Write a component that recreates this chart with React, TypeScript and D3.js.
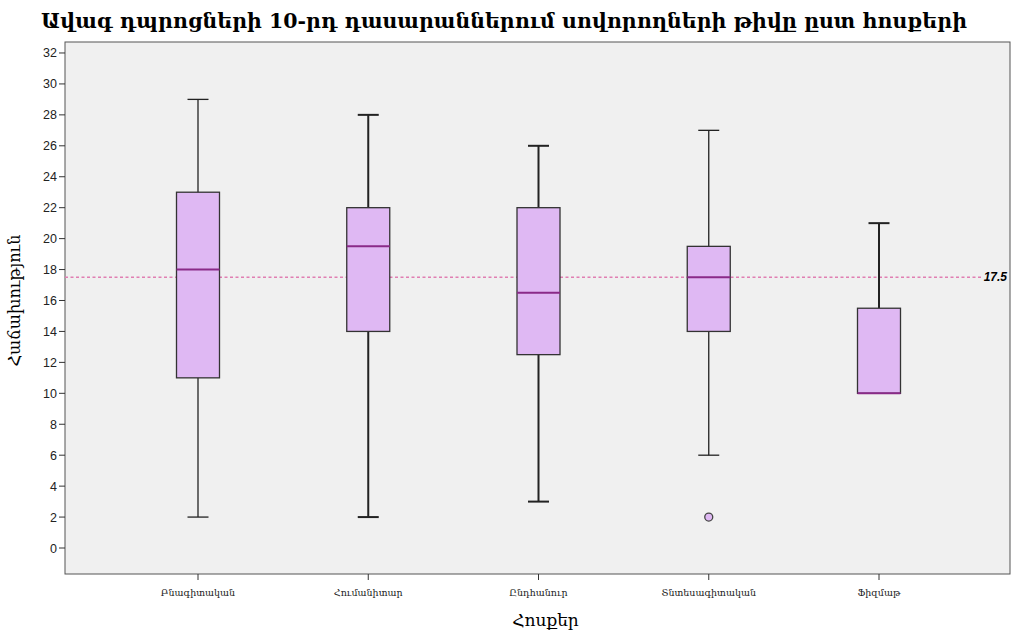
import React from "react";
import * as d3 from "d3";

const categories = ["Բնագիտական", "Հումանիտար", "Ընդհանուր", "Տնտեսագիտական", "Ֆիզմաթ"];
const whiskerHigh = [29, 28, 26, 27, 21];
const q3 = [23, 22, 22, 19.5, 15.5];
const medians = [18, 19.5, 16.5, 17.5, 10];
const q1 = [11, 14, 12.5, 14, 10];
const whiskerLow = [2, 2, 3, 6, 10];
const outliers = [{ cat: "Տնտեսագիտական", value: 2 }];
const yTicks = [0, 2, 4, 6, 8, 10, 12, 14, 16, 18, 20, 22, 24, 26, 28, 30, 32];
const refValue = 17.5;
const title = "Ավագ դպրոցների 10-րդ դասարաններում սովորողների թիվը ըստ հոսքերի";
const xTitle = "Հոսքեր";
const yTitle = "Հաճախություն";

const W = 1013, H = 633;
const plot = { left: 65, top: 42, right: 1010, bottom: 574 };

export default function App() {
  const y = d3.scaleLinear().domain([-1.68, 32.71]).range([plot.bottom, plot.top]);
  const x = d3.scalePoint<string>().domain(categories).range([198, 879]);
  const boxW = 43;
  const capW = 21;
  const wThick = [1.3, 2, 2, 1.3, 2];
  return (
    <svg width={W} height={H} style={{ position: "absolute", left: 0, top: 0, display: "block" }}>
      <rect x={0} y={0} width={W} height={H} fill="#fff" />
      <text x={504} y={28} textAnchor="middle" fontFamily="DejaVu Serif" fontWeight="bold" fontSize={20.5} fill="#000">{title}</text>
      <rect x={plot.left} y={plot.top} width={plot.right - plot.left} height={plot.bottom - plot.top} fill="#f0f0f0" stroke="#555" strokeWidth={1} />
      {/* reference line */}
      <line x1={plot.left} x2={plot.right - 28} y1={y(refValue)} y2={y(refValue)} stroke="#e07fb2" strokeWidth={1.5} strokeDasharray="3,2.5" />
      <text x={plot.right - 3} y={y(refValue) + 4} textAnchor="end" fontFamily="Liberation Sans" fontWeight="bold" fontStyle="italic" fontSize={12} fill="#000">{refValue}</text>
      {/* y axis */}
      {yTicks.map((t) => (
        <g key={t}>
          <line x1={plot.left - 6} x2={plot.left} y1={y(t)} y2={y(t)} stroke="#333" />
          <text x={plot.left - 8} y={y(t) + 4.5} textAnchor="end" fontFamily="Liberation Sans" fontSize={12.5} fill="#222">{t}</text>
        </g>
      ))}
      {/* x axis */}
      {categories.map((c) => (
        <g key={c}>
          <line x1={x(c)!} x2={x(c)!} y1={plot.bottom} y2={plot.bottom + 6} stroke="#333" />
          <text x={x(c)!} y={plot.bottom + 22} textAnchor="middle" fontFamily="DejaVu Serif" fontSize={9.5} fill="#222">{c}</text>
        </g>
      ))}
      <text x={(plot.left + plot.right) / 2 + 8} y={626} textAnchor="middle" fontFamily="DejaVu Serif" fontSize={17} fill="#000">{xTitle}</text>
      <text transform={`translate(20,${y(16)}) rotate(-90)`} textAnchor="middle" fontFamily="DejaVu Serif" fontSize={16} fill="#000">{yTitle}</text>
      {/* boxes */}
      {categories.map((c, i) => {
        const cx = x(c)!;
        const sw = wThick[i];
        return (
          <g key={c}>
            {whiskerHigh[i] > q3[i] && (
              <>
                <line x1={cx} x2={cx} y1={y(q3[i])} y2={y(whiskerHigh[i])} stroke="#222" strokeWidth={sw} />
                <line x1={cx - capW / 2} x2={cx + capW / 2} y1={y(whiskerHigh[i])} y2={y(whiskerHigh[i])} stroke="#222" strokeWidth={sw} />
              </>
            )}
            {whiskerLow[i] < q1[i] && (
              <>
                <line x1={cx} x2={cx} y1={y(q1[i])} y2={y(whiskerLow[i])} stroke="#222" strokeWidth={sw} />
                <line x1={cx - capW / 2} x2={cx + capW / 2} y1={y(whiskerLow[i])} y2={y(whiskerLow[i])} stroke="#222" strokeWidth={sw} />
              </>
            )}
            <rect x={cx - boxW / 2} y={y(q3[i])} width={boxW} height={y(q1[i]) - y(q3[i])} fill="#dfb8f3" stroke="#333" strokeWidth={1.3} />
            <line x1={cx - boxW / 2} x2={cx + boxW / 2} y1={y(medians[i])} y2={y(medians[i])} stroke="#8a2a88" strokeWidth={2} />
          </g>
        );
      })}
      {outliers.map((o, i) => (
        <circle key={i} cx={x(o.cat)!} cy={y(o.value)} r={4} fill="#dfb8f3" stroke="#444" strokeWidth={1.3} />
      ))}
    </svg>
  );
}
